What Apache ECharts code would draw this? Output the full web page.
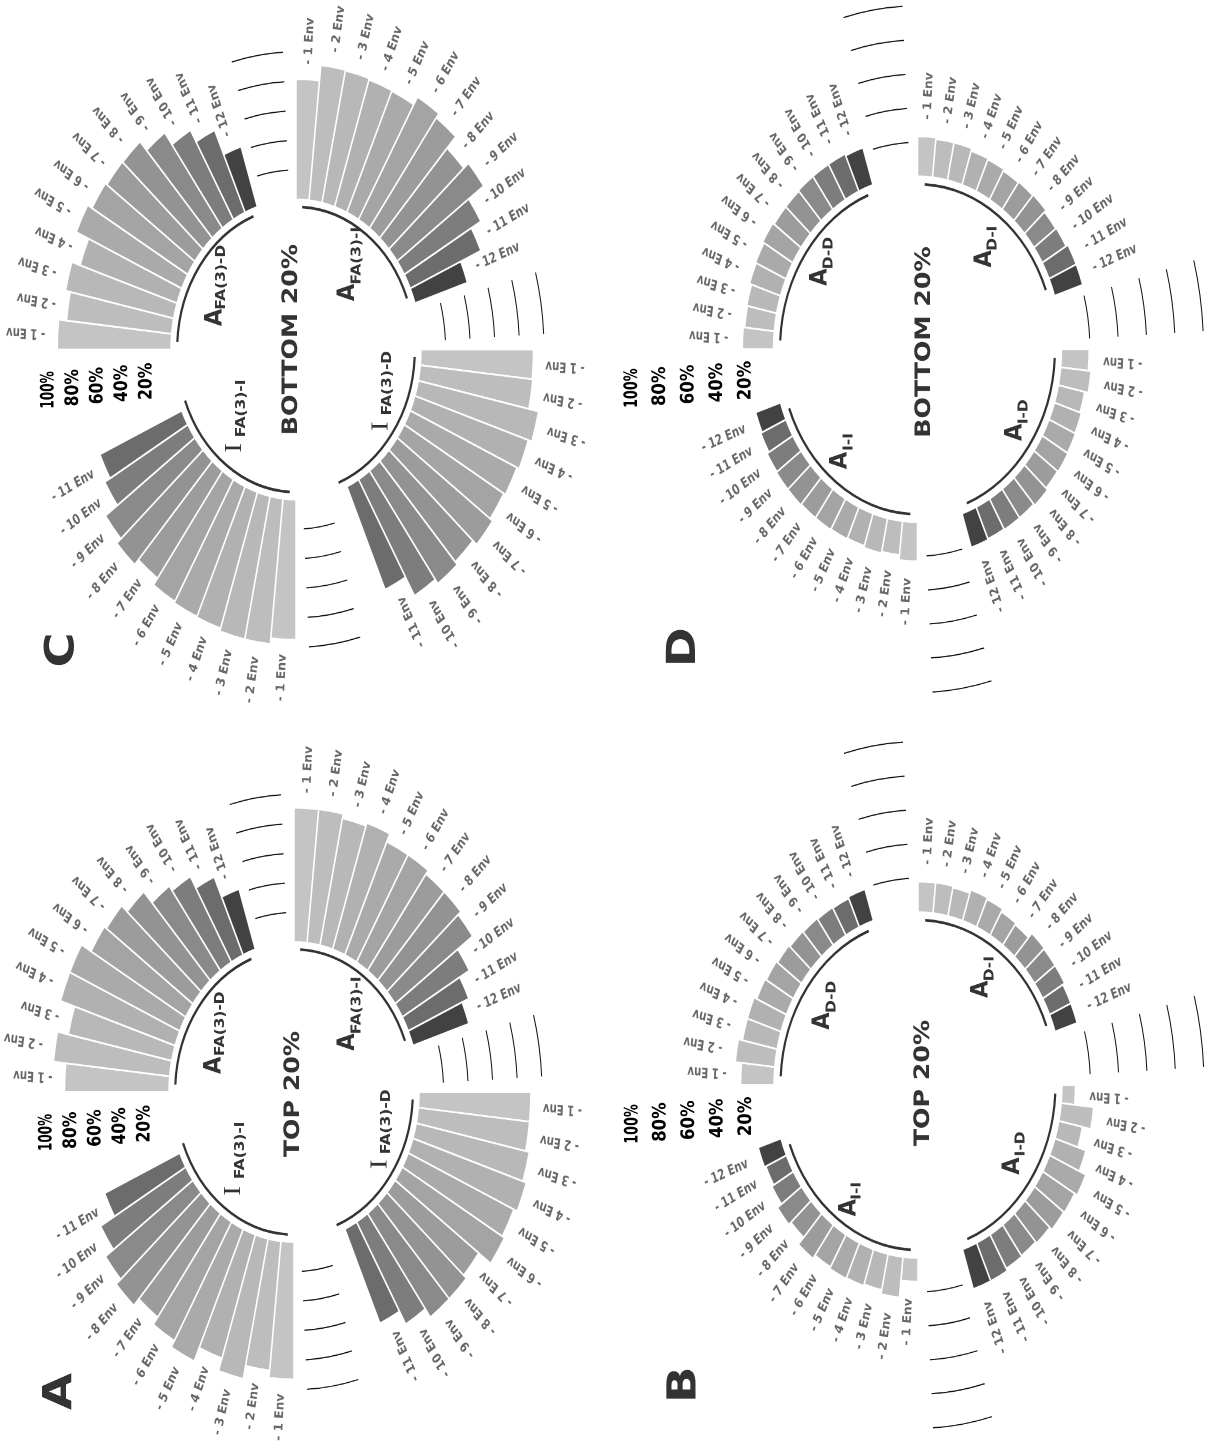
<!DOCTYPE html>
<html>
<head>
<meta charset="utf-8">
<title>Circular barplots - top / bottom 20%</title>
<script src="https://cdn.jsdelivr.net/npm/echarts@6.0.0/dist/echarts.min.js"></script>
<style>
  html, body { margin: 0; padding: 0; background: #fff; }
  #stage { width: 1206px; height: 1450px; overflow: hidden; position: relative; }
  /* the figure is a stretched version of circular plots */
  #chart { position: absolute; left: 0; top: 0; width: 1206px; height: 1208px;
           transform-origin: 0 0; transform: scaleY(1.20033); }
</style>
</head>
<body>
<div id="stage"><div id="chart"></div></div>
<script>
var envNames = ['- 1 Env', '- 2 Env', '- 3 Env', '- 4 Env', '- 5 Env', '- 6 Env',
                '- 7 Env', '- 8 Env', '- 9 Env', '- 10 Env', '- 11 Env', '- 12 Env'];
var radialTicks = [20, 40, 60, 80, 100];
var radialTickLabels = ['20%', '40%', '60%', '80%', '100%'];

// A - TOP 20%
var topAfa3I = [91, 91, 88, 90, 84, 84, 81, 81, 78, 63, 54, 48];
var topIfa3D = [91, 91, 94, 97, 94, 96, 84, 87, 87, 80, 70];
var topIfa3I = [93, 88, 97, 88, 98, 93, 87, 93, 88, 80, 67];
var topAfa3D = [85, 95, 86, 98, 98, 89, 87, 81, 71, 67, 58, 43];
// B - TOP 20%
var topADI = [18, 18, 17, 19, 18, 16, 15, 18.5, 18, 18, 16.5, 16.5];
var topAID = [9.5, 23, 17, 23, 28, 26, 25.5, 23.5, 22.5, 23, 24.5, 24.5];
var topAII = [14, 24, 21.5, 22.5, 23, 22, 24.5, 19, 21, 17.5, 16, 17];
var topADD = [23.5, 28, 25, 25, 23, 22, 21, 20, 19.5, 19, 18.5, 19.5];
// C - BOTTOM 20%
var botAfa3I = [81.5, 92, 91.5, 90.5, 90, 96, 92.5, 82, 87, 72, 63, 45];
var botIfa3D = [91.5, 92, 100, 97, 95, 93.5, 96, 92, 94.5, 91, 76.5];
var botIfa3I = [95, 99, 99, 97, 96.5, 95.5, 90, 94.5, 90, 78, 73];
var botAfa3D = [92.5, 86, 90, 83, 94, 90, 88.5, 88, 80, 70, 61, 43];
// D - BOTTOM 20%
var botADI = [23.5, 22.5, 22.5, 21, 20.5, 19.5, 20, 20.5, 19, 19.5, 21, 21];
var botAID = [19.5, 21.5, 19, 20, 20.5, 21, 20.5, 22, 21, 21, 20.5, 21];
var botAII = [23, 20, 21, 20, 20.5, 21, 21, 21.5, 21.5, 21, 19.5, 18.5];
var botADD = [22, 21, 21.5, 23, 23.5, 24.5, 23.5, 23.5, 24, 24, 24, 23];

var envColors = ['#c4c4c4', '#bdbdbd', '#b8b8b8', '#b1b1b1', '#aaaaaa', '#a4a4a4',
                 '#9c9c9c', '#939393', '#8a8a8a', '#7d7d7d', '#6c6c6c', '#424242'];

var SLOTS = 60;
var slotNames = [];
for (var i = 0; i < SLOTS; i++) slotNames.push(String(i));
var groupStart = [0, 15, 30, 45];          // upper-right, lower-right, lower-left, upper-left
var gridGaps = [[12, 14], [27, 29], [57, 59]];
var tickSlot = 44;
var YS = 1450 / 1208;

var FONT = '"DejaVu Sans", "Noto Sans", sans-serif';
var SERIF = '"Liberation Serif", "DejaVu Serif", serif';

// cx, cy in picture pixels; k = px per 1 %
var panels = [
  { letter: 'A', title: 'TOP 20%', cx: 294, cy: 1092, r0: 125, k: 1.23, arcV: -5,
    tickAng: -175.8, tickW: 31, tdx: -1.7, tdy: 1.7,
    groups: [
      { vals: topAfa3I, main: 'A', sub: 'FA(3)-I', m: [52.7, -34.4], s: [62.7, -48.3] },
      { vals: topIfa3D, main: 'I', sub: 'FA(3)-D', m: [85, 64.2], s: [91.8, 51.7] },
      { vals: topIfa3I, main: 'I', sub: 'FA(3)-I', m: [-61.5, 86.4], s: [-54, 72.5] },
      { vals: topAfa3D, main: 'A', sub: 'FA(3)-D', m: [-80.5, -15], s: [-74, -30] }
    ] },
  { letter: 'B', title: 'TOP 20%', cx: 918, cy: 1085, r0: 144, k: 1.42, arcV: -4.6,
    tickAng: -176.8, tickW: 33, tdx: 4.5, tdy: -1.7,
    groups: [
      { vals: topADI, main: 'A', sub: 'D-I', m: [62.5, -72.5], s: [71.7, -86.4] },
      { vals: topAID, main: 'A', sub: 'I-D', m: [93.8, 74.7], s: [102.5, 59.4] },
      { vals: topAII, main: 'A', sub: 'I-I', m: [-69.5, 109.4], s: [-61.7, 95.6] },
      { vals: topADD, main: 'A', sub: 'D-D', m: [-96, -46], s: [-86.7, -60] }
    ] },
  { letter: 'C', title: 'BOTTOM 20%', cx: 296, cy: 349.5, r0: 125, k: 1.23, arcV: -5,
    tickAng: -175.8, tickW: 31, tdx: -5.5, tdy: -8.3,
    groups: [
      { vals: botAfa3I, main: 'A', sub: 'FA(3)-I', m: [50.7, -40.3], s: [60.7, -54.2] },
      { vals: botIfa3D, main: 'I', sub: 'FA(3)-D', m: [84, 68], s: [90.8, 55] },
      { vals: botIfa3I, main: 'I', sub: 'FA(3)-I', m: [-62.5, 86], s: [-55, 73] },
      { vals: botAfa3D, main: 'A', sub: 'FA(3)-D', m: [-81.7, -19.4], s: [-75.2, -33.3] }
    ] },
  { letter: 'D', title: 'BOTTOM 20%', cx: 917.5, cy: 349.2, r0: 144, k: 1.42, arcV: -4.6,
    tickAng: -176.8, tickW: 33, tdx: 6.2, tdy: -6,
    groups: [
      { vals: botADI, main: 'A', sub: 'D-I', m: [66.2, -68], s: [75.2, -82] },
      { vals: botAID, main: 'A', sub: 'I-D', m: [97, 76.4], s: [106, 62.5] },
      { vals: botAII, main: 'A', sub: 'I-I', m: [-78, 100], s: [-69, 84.7] },
      { vals: botADD, main: 'A', sub: 'D-D', m: [-98, -52.8], s: [-89, -66.7] }
    ] }
];

var measureCtx = document.createElement('canvas').getContext('2d');
function textWidth(txt, font) {
  measureCtx.font = font;
  return measureCtx.measureText(txt).width;
}

function arcRender(stroke, width) {
  return function (params, api) {
    var cs = params.coordSys;
    var a = api.coord([api.value(0), api.value(1)]);
    var b = api.coord([api.value(0), api.value(2)]);
    var r = Math.sqrt((a[0] - cs.cx) * (a[0] - cs.cx) + (a[1] - cs.cy) * (a[1] - cs.cy));
    return {
      type: 'arc',
      shape: { cx: cs.cx, cy: cs.cy, r: r,
               startAngle: Math.atan2(a[1] - cs.cy, a[0] - cs.cx),
               endAngle: Math.atan2(b[1] - cs.cy, b[0] - cs.cx), clockwise: true },
      style: { stroke: stroke, lineWidth: width, fill: null }
    };
  };
}

function envLabelRender(texts) {
  var font = 'bold 12px ' + FONT;
  return function (params, api) {
    var cs = params.coordSys;
    var p = api.coord([api.value(0), api.value(1)]);
    var ang = Math.atan2(cs.cy - p[1], p[0] - cs.cx);
    var upper = ang > 0;
    var al = upper ? 'left' : 'right';
    return {
      type: 'text', x: p[0], y: p[1],
      rotation: upper ? ang : ang + Math.PI,
      scaleX: 0.85,
      style: { text: texts[params.dataIndex], font: font, fill: '#686868',
               align: al, verticalAlign: 'middle', textAlign: al, textVerticalAlign: 'middle' }
    };
  };
}

function tickRender(angDeg, targetW) {
  var font = 'bold 19px ' + FONT;
  return function (params, api) {
    var cs = params.coordSys;
    var p = api.coord([api.value(0), api.value(1)]);
    var r = Math.sqrt((p[0] - cs.cx) * (p[0] - cs.cx) + (p[1] - cs.cy) * (p[1] - cs.cy));
    var a = angDeg * Math.PI / 180;
    var txt = radialTickLabels[params.dataIndex];
    return {
      type: 'text', x: cs.cx + r * Math.cos(a), y: cs.cy - r * Math.sin(a),
      rotation: Math.PI / 2,
      scaleX: targetW / textWidth(txt, font),
      style: { text: txt, font: font, fill: '#000',
               align: 'right', verticalAlign: 'middle', textAlign: 'right', textVerticalAlign: 'middle' }
    };
  };
}

function vText(x, y, txt, font, fill, align, sx) {
  return {
    type: 'text', x: x, y: y, rotation: Math.PI / 2, scaleX: sx || 1, silent: true,
    style: { text: txt, font: font, fill: fill, align: align, verticalAlign: 'middle',
             textAlign: align, textVerticalAlign: 'middle' }
  };
}

var polar = [], angleAxis = [], radiusAxis = [], series = [], graphic = [];

panels.forEach(function (p, pi) {
  var cy = p.cy / YS;
  polar.push({ center: [p.cx, cy], radius: [p.r0 - 10 * p.k, p.r0 + 140 * p.k] });
  angleAxis.push({
    polarIndex: pi, type: 'category', data: slotNames, startAngle: 90, clockwise: true,
    boundaryGap: true, axisLine: { show: false }, axisTick: { show: false },
    axisLabel: { show: false }, splitLine: { show: false }, splitArea: { show: false }
  });
  radiusAxis.push({
    polarIndex: pi, type: 'value', min: -10, max: 140,
    axisLine: { show: false }, axisTick: { show: false }, axisLabel: { show: false },
    splitLine: { show: false }, splitArea: { show: false }
  });

  var barData = [];
  for (var s = 0; s < SLOTS; s++) barData.push('-');
  var labelData = [], labelText = [], innerArcs = [];
  p.groups.forEach(function (g, gi) {
    var s0 = groupStart[gi];
    g.vals.forEach(function (v, i) {
      barData[s0 + i] = { value: v, itemStyle: { color: envColors[i] } };
      labelData.push([v + 10, s0 + i]);
      labelText.push(envNames[i]);
    });
    innerArcs.push([p.arcV, s0, s0 + 11]);

    // group label: main letter + subscript
    graphic.push(vText(p.cx + g.m[0] + 1, cy + g.m[1], g.main,
      g.main === 'I' ? '24px ' + SERIF : 'bold 24px ' + FONT, '#333', 'left',
      g.main === 'I' ? 1 : 0.78));
    graphic.push(vText(p.cx + g.s[0] + 0.5, cy + g.s[1], g.sub, 'bold 13.5px ' + FONT, '#333', 'left', 0.95));
  });

  var gridArcs = [];
  radialTicks.forEach(function (t) {
    gridGaps.forEach(function (gp) { gridArcs.push([t, gp[0], gp[1]]); });
  });

  series.push({
    type: 'bar', coordinateSystem: 'polar', polarIndex: pi, data: barData,
    barCategoryGap: '0%', silent: true,
    itemStyle: { borderColor: '#fff', borderWidth: 1.5 }
  });
  series.push({ type: 'custom', coordinateSystem: 'polar', polarIndex: pi, silent: true,
                data: gridArcs, renderItem: arcRender('#111', 1) });
  series.push({ type: 'custom', coordinateSystem: 'polar', polarIndex: pi, silent: true,
                data: innerArcs, renderItem: arcRender('#333', 2.2) });
  series.push({ type: 'custom', coordinateSystem: 'polar', polarIndex: pi, silent: true,
                data: labelData, renderItem: envLabelRender(labelText) });
  series.push({ type: 'custom', coordinateSystem: 'polar', polarIndex: pi, silent: true,
                data: radialTicks.map(function (t) { return [t, tickSlot]; }),
                renderItem: tickRender(p.tickAng, p.tickW) });

  graphic.push(vText(p.cx + p.tdx + 1, cy + p.tdy, p.title, 'bold 21px ' + FONT, '#333', 'center'));
  graphic.push(vText(p.cx - 234 + 1, cy + 265, p.letter, 'bold 40px ' + FONT, '#333', 'left'));
});

var chart = echarts.init(document.getElementById('chart'), null, { devicePixelRatio: 2 });
chart.setOption({
  backgroundColor: '#fff',
  animation: false,
  textStyle: { fontFamily: FONT },
  polar: polar,
  angleAxis: angleAxis,
  radiusAxis: radiusAxis,
  series: series,
  graphic: graphic
});
</script>
</body>
</html>
